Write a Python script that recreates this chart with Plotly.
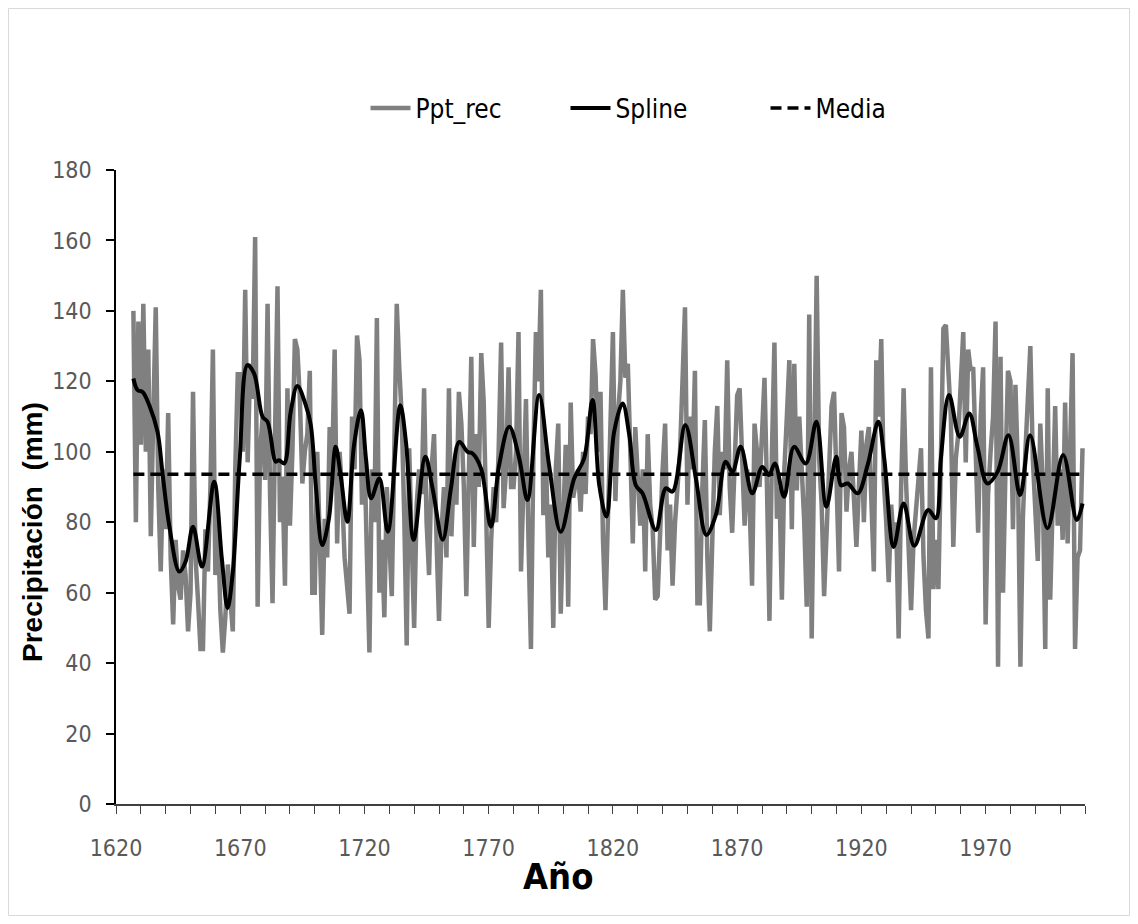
import plotly.graph_objects as go

# ---------------- data ----------------
start_year = 1627
ppt_rec = [
    140, 80, 137,
    102, 142, 100, 129, 76, 110, 141, 90, 66, 95,      # 1630s
    78, 111, 70, 51, 75, 62, 58, 72, 65, 49,           # 1640s
    60, 117, 70, 58, 44, 44, 78, 66, 90, 129,          # 1650s
    65, 80, 55, 43, 53, 68, 57, 49, 95, 122,           # 1660s
    122, 100, 146, 97, 125, 115, 161, 56, 100, 110,    # 1670s
    92, 142, 88, 57, 105, 147, 80, 93, 62, 118,        # 1680s
    79, 100, 132, 129, 115, 91, 100, 105, 123, 60,     # 1690s
    60, 100, 75, 48, 81, 70, 107, 95, 129, 74,         # 1700s
    100, 88, 70, 62, 54, 110, 95, 133, 126, 85,        # 1710s
    100, 70, 43, 95, 80, 138, 60, 75, 53, 90,          # 1720s
    70, 59, 100, 142, 124, 110, 82, 45, 101, 70,       # 1730s
    50, 85, 95, 88, 118, 80, 65, 95, 105, 75,          # 1740s
    52, 77, 90, 70, 118, 76, 95, 85, 117, 108,         # 1750s
    90, 59, 100, 127, 73, 105, 90, 128, 114, 85,       # 1760s
    50, 75, 90, 80, 100, 131, 84, 95, 124, 90,         # 1770s
    90, 100, 134, 66, 95, 115, 75, 44, 100, 134,       # 1780s
    120, 146, 82, 100, 70, 85, 50, 95, 108, 54,        # 1790s
    80, 102, 56, 114, 87, 92, 95, 83, 100, 88,         # 1800s
    110, 105, 132, 122, 100, 117, 75, 55, 84, 100,     # 1810s
    134, 86, 110, 120, 146, 121, 125, 100, 74, 107,    # 1820s
    90, 79, 95, 66, 105, 85, 78, 58, 59, 80,           # 1830s
    95, 108, 72, 85, 62, 80, 89, 100, 120, 141,        # 1840s
    85, 110, 95, 123, 57, 57, 90, 109, 70, 49,         # 1850s
    75, 100, 113, 82, 100, 95, 126, 90, 77, 100,       # 1860s
    116, 118, 100, 79, 95, 85, 62, 108, 100, 90,       # 1870s
    105, 121, 90, 52, 100, 131, 81, 90, 58, 95,        # 1880s
    110, 126, 78, 125, 89, 110, 95, 80, 56, 139,       # 1890s
    47, 100, 150, 98, 85, 59, 80, 100, 113, 117,       # 1900s
    95, 66, 111, 107, 83, 95, 100, 88, 73, 90,         # 1910s
    106, 80, 102, 107, 90, 66, 126, 110, 132, 92,      # 1920s
    80, 63, 85, 74, 80, 47, 90, 118, 91, 70,           # 1930s
    55, 75, 84, 90, 101, 70, 55, 47, 124, 61,          # 1940s
    75, 61, 100, 135, 136, 125, 110, 73, 98, 105,      # 1950s
    120, 134, 97, 129, 123, 124, 100, 77, 110, 124,    # 1960s
    51, 88, 100, 110, 137, 39, 127, 60, 95, 123,       # 1970s
    120, 78, 119, 95, 39, 81, 100, 115, 130, 98,       # 1980s
    80, 69, 108, 90, 44, 118, 58, 90, 113, 79,         # 1990s
    95, 75, 114, 74, 100, 128, 44, 70, 72, 101,        # 2000s
]
years = list(range(start_year, start_year + len(ppt_rec)))

spline_years = [
    1627, 1628.7, 1630.7, 1633.4, 1636.7, 1638.8, 1641.4, 1645.5, 1648, 1651,
    1654.6, 1659.5, 1662.6, 1664.9, 1666.9, 1669.8, 1672.9, 1675.6, 1679, 1681,
    1684.3, 1685.6, 1687.7, 1690.3, 1693, 1696.4, 1698.4, 1700.4, 1703, 1705.7,
    1708.4, 1710.4, 1713.1, 1715.8, 1718.6, 1720.6, 1722.7, 1726, 1729.4, 1734.4,
    1736.7, 1739.8, 1744.5, 1747.4, 1751.5, 1754.8, 1758.2, 1761.5, 1763.5, 1766.9,
    1770.9, 1774.2, 1778.3, 1782.3, 1785.6, 1790.3, 1794.3, 1799, 1804.4, 1808.4,
    1811.8, 1814.5, 1817.4, 1820.5, 1823.9, 1826.6, 1829.2, 1831.9, 1837.3, 1841.3,
    1844, 1849.1, 1853.4, 1857.6, 1861.4, 1865.4, 1868.1, 1871.4, 1876.1, 1880.1,
    1882.8, 1885.2, 1888.9, 1892.9, 1897.6, 1901.9, 1905.9, 1909.9, 1911.8, 1914.5,
    1918.5, 1922.5, 1926.8, 1929.2, 1933, 1937, 1941.3, 1946.9, 1950, 1952,
    1955.3, 1959.6, 1963.4, 1966.7, 1970.7, 1974.8, 1979.2, 1983.9, 1987.9, 1994.9,
    2001.2, 2006.7, 2009,
]
spline_vals = [
    120.8, 117.5, 117, 113.2, 105.7, 93.4, 79.2, 66, 68.8, 78.7,
    67.4, 91.5, 69.7, 55.6, 65, 98, 124.6, 122.2, 109.9, 108.5,
    97.2, 97.6, 96.7, 111.3, 118.7, 113.2, 107.6, 90.5, 73.5, 81.1,
    101.4, 93.4, 80.1, 101.9, 111.8, 98.1, 86.8, 92.4, 77.3, 113.2,
    102.8, 75, 98.6, 89.6, 75, 89.6, 102.8, 100, 99.5, 95.3,
    78.7, 96.2, 107.1, 98.1, 86.3, 116.1, 96.2, 77.3, 92.4, 98.1,
    114.7, 90.5, 81.6, 105.7, 113.7, 104.7, 90.5, 88.2, 77.8, 89.6,
    88.7, 107.6, 92.4, 76.4, 82, 97.2, 94.3, 101.4, 88.2, 95.7,
    93.4, 96.7, 87.2, 101.4, 96.7, 108.5, 84.4, 98.6, 90.5, 91,
    88.2, 96.2, 108.5, 98.1, 73, 85.3, 73.3, 83.5, 81.1, 98.1,
    116.1, 104.3, 110.9, 101.4, 91, 94.3, 104.7, 87.7, 104.7, 78.3,
    99.1, 80.6, 85.3,
]
media_value = 93.6
media_years = [years[0], years[-1]]

x_tick_labels = [1620, 1670, 1720, 1770, 1820, 1870, 1920, 1970]
y_ticks = [0, 20, 40, 60, 80, 100, 120, 140, 160, 180]

# ---------------- figure ----------------
W, H = 1122, 908
ML, MR, MT, MB = 108, 45, 162, 112
PW, PH = W - ML - MR, H - MT - MB

narrow = "Liberation Sans Narrow, DejaVu Sans Condensed, Arial Narrow, sans-serif"

fig = go.Figure()
fig.add_trace(go.Scatter(
    x=years, y=ppt_rec, mode="lines", name="Ppt_rec",
    line=dict(color="#808080", width=4.5),
))
fig.add_trace(go.Scatter(
    x=spline_years, y=spline_vals, mode="lines", name="Spline",
    line=dict(color="#000000", width=4, shape="spline", smoothing=1.0),
))
fig.add_trace(go.Scatter(
    x=media_years, y=[media_value, media_value], mode="lines", name="Media",
    line=dict(color="#000000", width=3.5, dash="11px,6px"),
))

fig.update_layout(
    width=W, height=H,
    margin=dict(l=ML, r=MR, t=MT, b=MB, autoexpand=False),
    paper_bgcolor="white", plot_bgcolor="white",
    showlegend=True,
    legend=dict(
        orientation="h", x=0.5 + 65 / PW, xanchor="center", y=1 + 62 / PH, yanchor="middle",
        font=dict(family=narrow, size=26, color="#000000"),
        itemwidth=40, tracegroupgap=0,
        entrywidth=145, entrywidthmode="pixels",
    ),
    xaxis=dict(
        range=[1620, 2010], tickmode="array", tickvals=x_tick_labels,
        ticktext=[str(v) for v in x_tick_labels],
        ticks="outside", ticklen=8, tickwidth=1, tickcolor="#404040",
        minor=dict(dtick=10, tick0=1620, ticks="outside", ticklen=8,
                   tickwidth=1, tickcolor="#404040", showgrid=False),
        showline=True, linecolor="#404040", linewidth=2,
        showgrid=False, zeroline=False,
        tickfont=dict(family=narrow, size=23, color="#595959"),
        ticklabelstandoff=14,
    ),
    yaxis=dict(
        range=[0, 180], tickmode="array", tickvals=y_ticks,
        ticks="outside", ticklen=8, tickwidth=1.5, tickcolor="#000000",
        showline=True, linecolor="#000000", linewidth=1.5,
        showgrid=False, zeroline=False,
        tickfont=dict(family=narrow, size=23, color="#595959"),
        ticklabelstandoff=10,
    ),
    annotations=[
        dict(text="Precipitación\u00a0 (mm)", xref="paper", yref="paper",
             x=(24 - ML) / PW, y=(MT + PH - 524) / PH, textangle=-90,
             showarrow=False, xanchor="center", yanchor="middle",
             font=dict(family="Liberation Sans, Arial, sans-serif", size=28,
                       color="#000000", weight="bold")),
        dict(text="Año", xref="paper", yref="paper",
             x=(550 - ML) / PW, y=(MT + PH - 868) / PH,
             showarrow=False, xanchor="center", yanchor="middle",
             font=dict(family=narrow, size=36, color="#000000", weight="bold")),
    ],
    shapes=[
        dict(type="rect", xref="paper", yref="paper",
             x0=(-ML + 0.5) / PW, x1=1 + (MR - 0.5) / PW,
             y0=(-MB + 0.5) / PH, y1=1 + (MT - 0.5) / PH,
             line=dict(color="#d9d9d9", width=1), layer="below"),
    ],
)

fig.write_html("out.html")
